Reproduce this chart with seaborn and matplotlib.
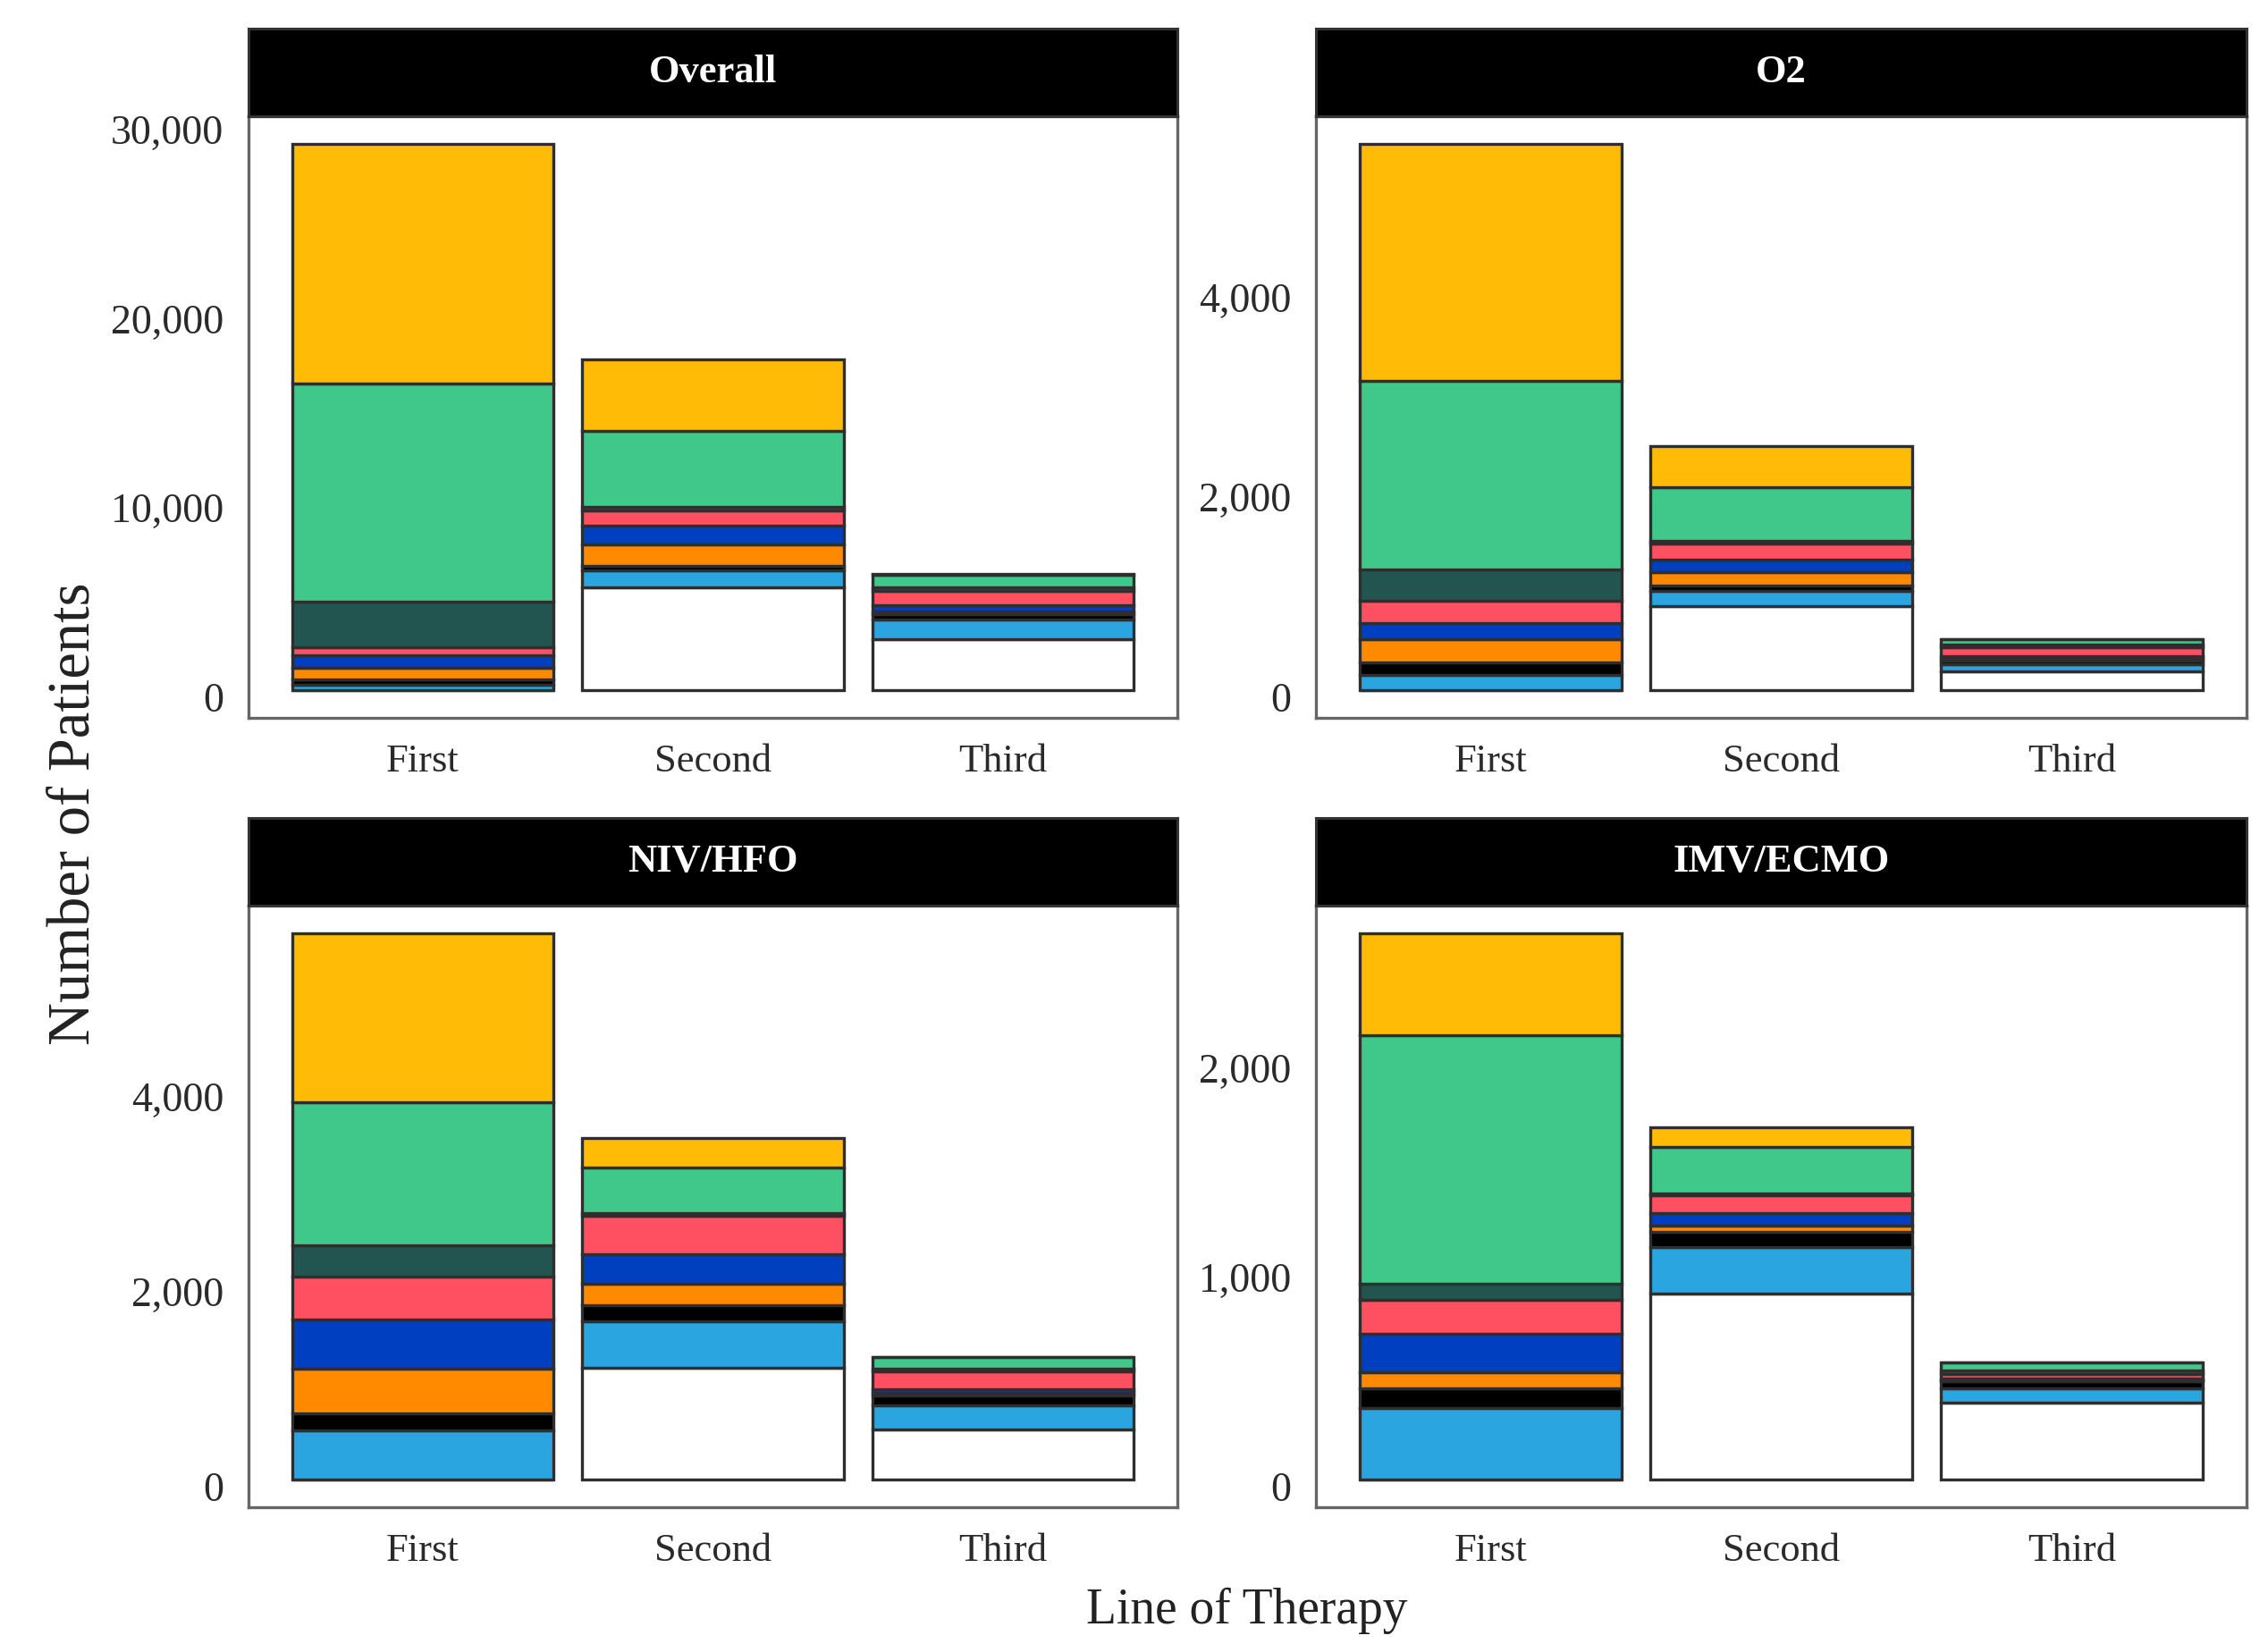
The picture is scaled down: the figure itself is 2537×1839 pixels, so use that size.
import numpy as np
import pandas as pd
import matplotlib
matplotlib.use("Agg")
import matplotlib.pyplot as plt
import matplotlib.transforms as mtransforms
import seaborn as sns
from matplotlib.ticker import FuncFormatter, FixedLocator

# ---------------- data ----------------
panels = ["Overall", "O2", "NIV/HFO", "IMV/ECMO"]
lines = ["First", "Second", "Third"]
# stacking order, bottom -> top
groups = ["None", "Therapy A", "Therapy B", "Therapy C", "Therapy D",
          "Therapy E", "Therapy F", "Therapy G", "Therapy H"]
colors = ["#FFFFFF", "#2AA5E0", "#000000", "#FF8A00", "#0040C0",
          "#FF5062", "#225450", "#40C88A", "#FFBB05"]

overall_first = [0, 300, 290, 630, 650, 410, 2400, 11550, 12700]
overall_second = [5460, 880, 245, 1145, 1000, 777, 205, 4000, 3785]
overall_third = [2720, 1020, 290, 160, 300, 780, 185, 670, 50]

o2_first = [0, 158, 124, 232, 166, 220, 317, 1887, 2377]
o2_second = [850, 147, 58, 135, 124, 155, 31, 541, 406]
o2_third = [193, 70, 40, 20, 25, 85, 30, 50, 0]

niv_first = [0, 507, 173, 460, 507, 442, 319, 1478, 1736]
niv_second = [1152, 476, 165, 223, 303, 392, 31, 472, 296]
niv_third = [515, 249, 108, 27, 30, 185, 26, 123, 0]

imv_first = [0, 343, 93, 77, 184, 165, 75, 1189, 488]
imv_second = [889, 223, 75, 27, 63, 82, 8, 224, 94]
imv_third = [370, 66, 35, 6, 6, 25, 14, 39, 0]

panel_values = {
    "Overall": [overall_first, overall_second, overall_third],
    "O2": [o2_first, o2_second, o2_third],
    "NIV/HFO": [niv_first, niv_second, niv_third],
    "IMV/ECMO": [imv_first, imv_second, imv_third],
}
panel_ticks = {
    "Overall": [0, 10000, 20000, 30000],
    "O2": [0, 2000, 4000],
    "NIV/HFO": [0, 2000, 4000],
    "IMV/ECMO": [0, 1000, 2000],
}

rows = []
for p in panels:
    for li, vals in zip(lines, panel_values[p]):
        for g, v in zip(groups, vals):
            rows.append({"panel": p, "line": li, "group": g, "n": v})
df = pd.DataFrame(rows)
df["line"] = pd.Categorical(df["line"], categories=lines, ordered=True)

# ---------------- style ----------------
sns.set_theme(style="white")
plt.rcParams["font.family"] = ["Liberation Serif", "DejaVu Serif"]

fig = plt.figure(figsize=(25.37, 18.39), dpi=100)
fig.patch.set_facecolor("white")

W, H = 2537.0, 1839.0
def rect(l, t, r, b):
    return [l / W, 1 - b / H, (r - l) / W, (b - t) / H]

axes_px = {
    "Overall": (278, 130, 1317, 803),
    "O2": (1472, 130, 2513, 803),
    "NIV/HFO": (278, 1013, 1317, 1686),
    "IMV/ECMO": (1472, 1013, 2513, 1686),
}
strip_h = 98

palette = dict(zip(groups, colors))
hue_order = groups[::-1]  # seaborn stacks first hue level on top

label_shift = mtransforms.ScaledTranslation(0, -0.07, fig.dpi_scale_trans)

for p in panels:
    l, t, r, b = axes_px[p]
    ax = fig.add_axes(rect(l, t, r, b))
    sub = df[df["panel"] == p]
    sns.histplot(data=sub, x="line", weights="n", hue="group",
                 hue_order=hue_order, palette=palette, multiple="stack",
                 discrete=True, shrink=0.9, alpha=1, edgecolor="#2e2e2e",
                 linewidth=2.4, legend=False, ax=ax)
    totals = sub.groupby("line", observed=False)["n"].sum()
    ymax = totals.max()
    ax.set_ylim(-0.05 * ymax, 1.05 * ymax)
    ax.set_xlim(-0.6, 2.6)
    ax.set_xticks(range(len(lines)))
    ax.set_xticklabels(lines)
    ax.yaxis.set_major_locator(FixedLocator(panel_ticks[p]))
    ax.yaxis.set_major_formatter(FuncFormatter(lambda v, pos: f"{int(v):,}"))
    ax.set_xlabel("")
    ax.set_ylabel("")
    ax.tick_params(axis="x", length=9, width=2, color="#555555",
                   labelsize=32, labelcolor="#2a2a2a", pad=12)
    ax.tick_params(axis="y", length=0, labelsize=33, labelcolor="#2a2a2a",
                   pad=20)
    for lab in ax.get_yticklabels():
        lab.set_transform(lab.get_transform() + label_shift)
    for s in ax.spines.values():
        s.set_color("#666666")
        s.set_linewidth(2.4)
    ax.grid(False)

    # facet strip
    sax = fig.add_axes(rect(l, t - strip_h, r, t))
    sax.set_facecolor("black")
    sax.set_xticks([])
    sax.set_yticks([])
    for s in sax.spines.values():
        s.set_color("#333333")
        s.set_linewidth(2.2)
    sax.text(0.5, 0.5, p, color="white", fontsize=32, fontweight="bold",
             ha="center", va="center", transform=sax.transAxes)

fig.text(83 / W, 1 - 910 / H, "Number of Patients", rotation=90,
         ha="center", va="center", fontsize=48, color="#222222")
fig.text(1395 / W, 1 - 1802 / H, "Line of Therapy", ha="center",
         va="center", fontsize=40, color="#222222")

fig.savefig("out.png", dpi=100, facecolor="white")
